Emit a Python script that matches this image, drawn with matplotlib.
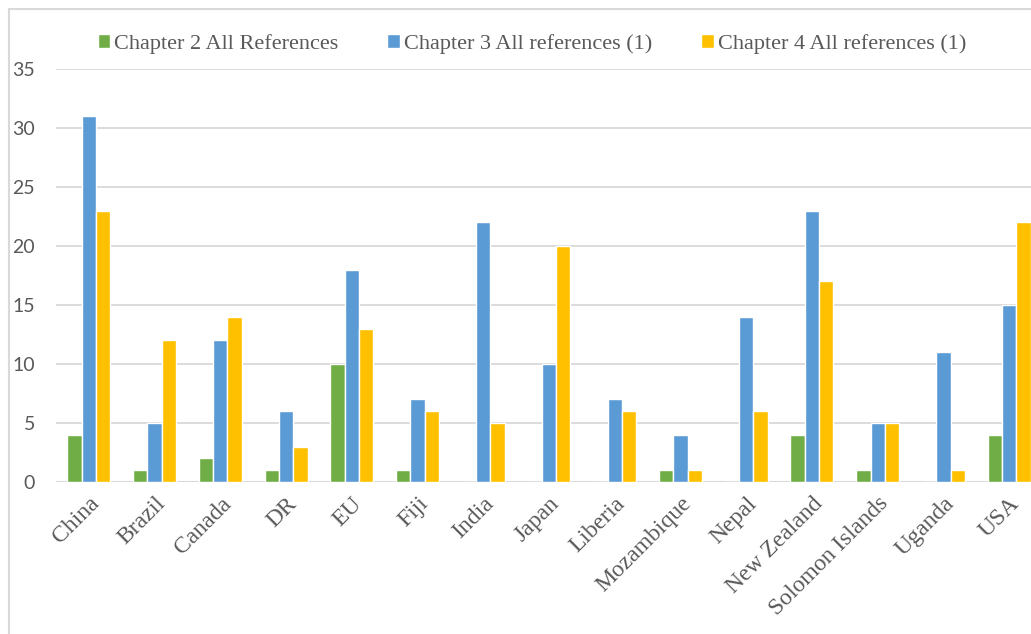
import numpy as np
import matplotlib
matplotlib.use("Agg")
from matplotlib import pyplot as plt
from matplotlib.patches import Rectangle

countries = ["China", "Brazil", "Canada", "DR", "EU", "Fiji", "India", "Japan",
             "Liberia", "Mozambique", "Nepal", "New Zealand", "Solomon Islands",
             "Uganda", "USA"]
ch2 = [4, 1, 2, 1, 10, 1, 0, 0, 0, 1, 0, 4, 1, 0, 4]
ch3 = [31, 5, 12, 6, 18, 7, 22, 10, 7, 4, 14, 23, 5, 11, 15]
ch4 = [23, 12, 14, 3, 13, 6, 5, 20, 6, 1, 6, 17, 5, 1, 22]
series_names = ["Chapter 2 All References", "Chapter 3 All references (1)",
                "Chapter 4 All references (1)"]
colors = ["#70AD47", "#5B9BD5", "#FFC000"]
yticks = [0, 5, 10, 15, 20, 25, 30, 35]

fig = plt.figure(figsize=(10.31, 6.34), dpi=100)
ax = fig.add_axes([56 / 1031, 152 / 634, 986 / 1031, 413 / 634])

# chart frame
fig.patches.append(Rectangle((9 / 1031, -0.05), 1.2, 1.05 - 9 / 634,
                             transform=fig.transFigure, fill=False,
                             edgecolor="#D9D9D9", linewidth=1.5, zorder=0))

x = np.arange(len(countries))
step = 0.218
for i, (vals, name, c) in enumerate(zip([ch2, ch3, ch4], series_names, colors)):
    ax.bar(x + (i - 1) * step, vals, width=step, color=c, edgecolor="white",
           linewidth=1.0, label=name, zorder=3)

ax.set_xlim(-0.5, len(countries) - 0.5)
ax.set_ylim(0, 35)
ax.set_yticks(yticks)
ax.yaxis.grid(True, color="#D9D9D9", linewidth=1.3, zorder=0)
for s in ax.spines.values():
    s.set_visible(False)
ax.axhline(0, color="#D9D9D9", linewidth=1.5, zorder=2)
ax.tick_params(axis="both", length=0)
ax.tick_params(axis="y", pad=15)
for lab in ax.get_yticklabels():
    lab.set_fontfamily("Lato")
    lab.set_fontsize(14)
    lab.set_color("#595959")

ax.set_xticks(x)
ax.set_xticklabels(countries, rotation=45, ha="right", rotation_mode="anchor",
                   fontfamily="Liberation Serif", fontsize=17, color="#595959")
ax.tick_params(axis="x", pad=8)

leg = fig.legend(loc="center", bbox_to_anchor=(532 / 1031, 1 - 44 / 634), ncol=3,
                 frameon=False, prop={"family": "Liberation Serif", "size": 16},
                 handlelength=0.55, handleheight=0.55, handletextpad=0.2,
                 columnspacing=2.2)
for t in leg.get_texts():
    t.set_color("#595959")

fig.savefig("out.png", dpi=100)
